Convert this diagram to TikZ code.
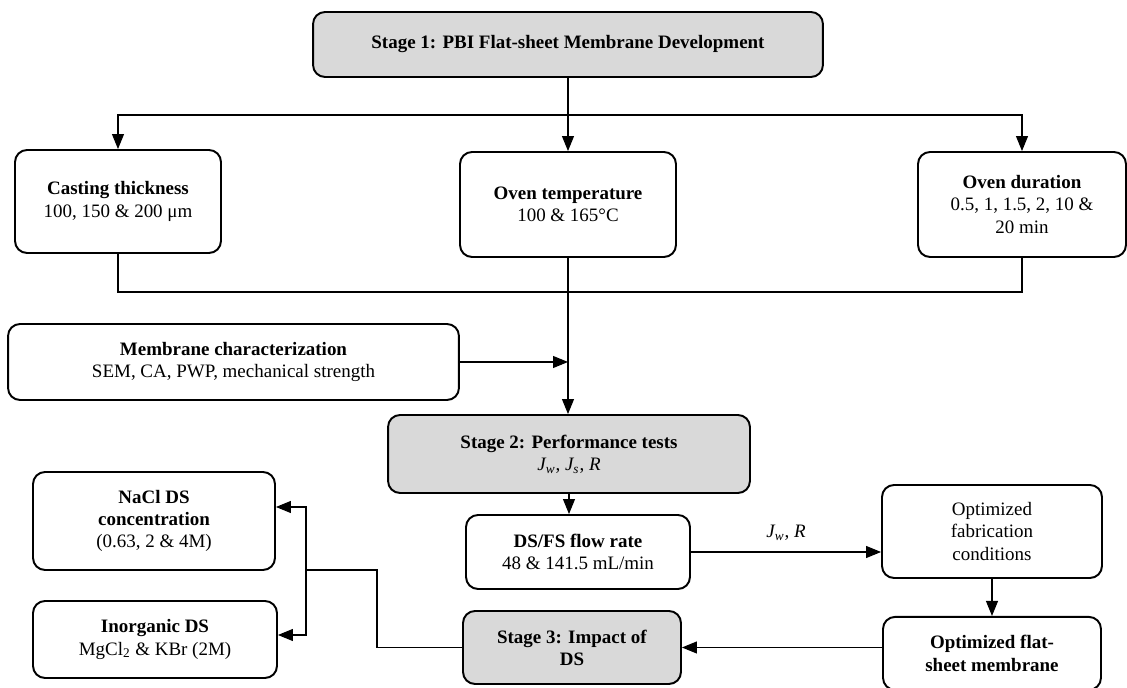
\documentclass[tikz,border=0pt]{standalone}
\usepackage{fontspec}
\setmainfont{Liberation Serif}
\usetikzlibrary{arrows.meta,positioning}
\definecolor{stagegray}{HTML}{D9D9D9}
\tikzset{
    box/.style={
    rectangle,rounded corners=0.24cm,draw=black,line width=1.1pt,fill=white,
    align=center,inner sep=2pt,font=\fontsize{10.8}{12.6}\selectfont
    },
    stagebox/.style={
    box,fill=stagegray
    },
    link/.style={
    draw=black,line width=0.6pt
    },
    arr/.style={
    link,-{Triangle[length=0.3cm,width=0.24cm]}
    },
}
\begin{document}
\begin{tikzpicture}[x=0.02cm,y=-0.02cm]
   \useasboundingbox (0,0) rectangle (1127,688);
   % stage 1 and its parameters
   \node[stagebox,minimum width=10.2cm,minimum height=1.3cm] (s1) at (568,44.5)
     {\textbf{Stage 1: PBI Flat-sheet Membrane Development}};
   \node[box,minimum width=4.12cm,minimum height=2.06cm] (cast) at (118,201.5)
     {\textbf{Casting thickness}\\100, 150 \& 200 μm};
   \node[box,minimum width=4.32cm,minimum height=2.1cm] (temp) at (568,204.5)
     {\textbf{Oven temperature}\\100 \& 165°C};
   \node[box,minimum width=4.16cm,minimum height=2.1cm] (dur) at (1022,204.5)
     {\textbf{Oven duration}\\0.5, 1, 1.5, 2, 10 \&\\20 min};
   \node[box,minimum width=9.02cm,minimum height=1.52cm] (mchar) at (233.5,362)
     {\textbf{Membrane characterization}\\SEM, CA, PWP, mechanical strength};
   % stage 2
   \node[stagebox,minimum width=7.24cm,minimum height=1.56cm] (s2) at (569,454)
     {\textbf{Stage 2: Performance tests}\\\textit{J\textsubscript{w}}, \textit{J\textsubscript{s}}, \textit{R}};
   \node[box,minimum width=4.48cm,minimum height=1.48cm] (dsfs) at (578,552)
     {\textbf{DS/FS flow rate}\\48 \& 141.5 mL/min};
   \node[box,minimum width=4.4cm,minimum height=1.86cm] (ofab) at (992,531.5)
     {Optimized\\fabrication\\conditions};
   \node[box,minimum width=4.36cm,minimum height=1.46cm,below=0.74cm of ofab.south,anchor=north] (oflat)
     {\textbf{Optimized flat-}\\\textbf{sheet membrane}};
   % stage 3
   \node[stagebox,minimum width=4.36cm,minimum height=1.46cm] (s3) at (572,647.5)
     {\textbf{Stage 3: Impact of}\\\textbf{DS}};
   \node[box,minimum width=4.84cm,minimum height=1.96cm] (nacl) at (154,521)
     {\textbf{NaCl DS}\\\textbf{concentration}\\(0.63, 2 \& 4M)};
   \node[box,minimum width=4.88cm,minimum height=1.54cm] (inorg) at (155,639.5)
     {\textbf{Inorganic DS}\\MgCl\textsubscript{2} \& KBr (2M)};

   \coordinate (split) at (568,115);
   \coordinate (merge) at (568,292);
   \coordinate (bend) at (377,570);
   \coordinate (fork) at (306,570);

   \draw[arr] (s1.south) -- (temp.north);
   \draw[arr] (split) -| (cast.north);
   \draw[arr] (split) -| (dur.north);
   \draw[link] (cast.south) |- (merge) -| (dur.south);
   \draw[arr] (temp.south) -- (temp.south |- s2.north);
   \draw[arr] (mchar.east) -- (mchar.east -| temp.south);
   \draw[arr] (s2.south) -- (s2.south |- dsfs.north);
   \draw[arr] (dsfs.east) -- node[above=3pt,font=\fontsize{10.8}{12.6}\selectfont]
      {\textit{J\textsubscript{w}}, \textit{R}} (dsfs.east -| ofab.west);
   \draw[arr] (ofab.south) -- (ofab.south |- oflat.north);
   \draw[arr] (oflat.west |- s3.east) -- (s3.east);
   \draw[link] (s3.west) -| (bend) -- (fork);
   \draw[arr] (fork) |- ([yshift=0.28cm]nacl.east);
   \draw[arr] (fork) |- ([yshift=0.09cm]inorg.east);
\end{tikzpicture}
\end{document}
